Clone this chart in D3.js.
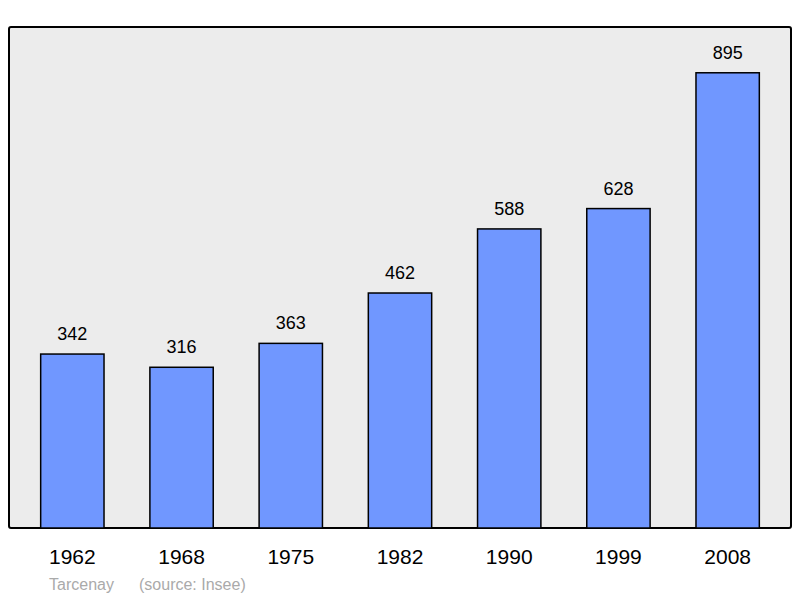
<!DOCTYPE html>
<html><head><meta charset="utf-8">
<script src="https://cdn.jsdelivr.net/npm/d3@7"></script>
<style>body{margin:0;background:#fff}</style>
</head><body><div id="chart"></div>
<script>
// DATA
var years = ["1962", "1968", "1975", "1982", "1990", "1999", "2008"];
var population = [342, 316, 363, 462, 588, 628, 895];
var town = "Tarcenay";
var source = "(source: Insee)";

// STRUCTURE
var svg = d3.select("#chart").append("svg")
.attr("width", 800).attr("height", 598)
.style("font-family", "Liberation Sans, Arial, sans-serif");

var pLeft = 9, pRight = 791, pTop = 27, pBottom = 528;

svg.append("rect")
.attr("x", pLeft).attr("y", pTop)
.attr("width", pRight - pLeft).attr("height", pBottom - pTop)
.attr("rx", 2)
.style("fill", "#ececec").style("stroke", "#000").style("stroke-width", 2);

// SCALES
var x = d3.scaleBand().domain(years).range([pLeft, pRight])
.paddingInner(0.42).paddingOuter(0.29);
var y = d3.scaleLinear().domain([0, 985]).range([pBottom, pTop]);

var data = years.map(function(d, i) { return {year: d, value: population[i]}; });

// GFX
svg.selectAll(".bar").data(data).enter().append("rect")
.attr("class", "bar")
.attr("x", function(d) { return x(d.year); })
.attr("y", function(d) { return y(d.value); })
.attr("width", x.bandwidth())
.attr("height", function(d) { return pBottom - y(d.value); })
.style("fill", "#7097ff").style("stroke", "#000").style("stroke-width", 1.5);

svg.selectAll(".val").data(data).enter().append("text")
.attr("x", function(d) { return x(d.year) + x.bandwidth() / 2; })
.attr("y", function(d) { return y(d.value) - 14; })
.attr("text-anchor", "middle")
.style("font-size", "18px")
.text(function(d) { return d.value; });

svg.selectAll(".year").data(data).enter().append("text")
.attr("x", function(d) { return x(d.year) + x.bandwidth() / 2; })
.attr("y", 564)
.attr("text-anchor", "middle")
.style("font-size", "21px")
.text(function(d) { return d.year; });

// TEXT
svg.append("text").attr("x", 49).attr("y", 590)
.style("font-size", "16px").style("fill", "#aaa")
.text(town);
svg.append("text").attr("x", 139).attr("y", 590)
.style("font-size", "16px").style("fill", "#aaa")
.text(source);
</script></body></html>
